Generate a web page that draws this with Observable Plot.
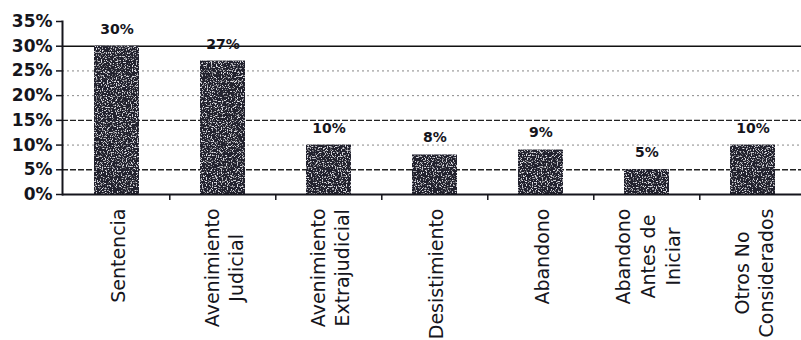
<!DOCTYPE html>
<html>
<head>
<meta charset="utf-8">
<script src="https://cdn.jsdelivr.net/npm/d3@7"></script>
<script src="https://cdn.jsdelivr.net/npm/@observablehq/plot@0.6"></script>
<style>
  html, body { margin: 0; padding: 0; background: #fff; }
  #chart svg { display: block; }
</style>
</head>
<body>
<div id="chart"></div>
<script>
// Outcome categories (multi-line labels use "\n")
const categories = [
  "Sentencia",
  "Avenimiento\nJudicial",
  "Avenimiento\nExtrajudicial",
  "Desistimiento",
  "Abandono",
  "Abandono\nAntes de\nIniciar",
  "Otros No\nConsiderados"
];
// Share of cases per outcome, in percent
const values = [30, 27, 10, 8, 9, 5, 10];
// Y axis ticks
const yTicks = [0, 5, 10, 15, 20, 25, 30, 35];
// Gridlines: heavier and lighter ones
const majorGrid = [30, 15, 5];
const minorGrid = [25, 20, 10];

const data = categories.map((c, i) => ({category: c, value: values[i]}));

const W = 801, H = 340;
const mLeft = 62, mTop = 21, mBottom = 146;
const xRange = [mLeft, 807];
const halfStep = (xRange[1] - xRange[0]) / categories.length / 2;
const ink = "#15151c";
const font = "DejaVu Sans, Verdana, sans-serif";

const chart = Plot.plot({
  width: W,
  height: H,
  marginLeft: mLeft,
  marginRight: 0,
  marginTop: mTop,
  marginBottom: mBottom,
  style: {fontFamily: font, color: ink, background: "#fff"},
  x: {type: "band", domain: categories, range: xRange, paddingInner: 0.58, paddingOuter: 0.29, axis: null},
  y: {domain: [0, 35], axis: null},
  marks: [
    Plot.ruleY(minorGrid, {stroke: "#555", strokeWidth: 1, strokeDasharray: "2,3", strokeOpacity: 0.7}),
    Plot.ruleY(majorGrid.filter(d => d !== 30), {stroke: "#222", strokeWidth: 1.4, strokeDasharray: "6,2"}),
    Plot.ruleY([30], {stroke: "#111", strokeWidth: 1.6}),
    Plot.barY(data, {x: "category", y: "value", fill: "#24232f", className: "bars"}),
    Plot.ruleY([0], {stroke: ink, strokeWidth: 2}),
    Plot.frame({anchor: "left", stroke: ink, strokeWidth: 2}),
    Plot.axisY({
      ticks: yTicks,
      tickFormat: d => d + "%",
      label: null,
      tickSize: 6,
      tickPadding: 4,
      stroke: ink,
      strokeWidth: 1.5,
      fontSize: 17,
      fontWeight: "bold",
      fill: ink
    }),
    // tick marks between categories on the baseline
    Plot.ruleX(categories.slice(1), {x: d => d, y1: 0, y2: 0, dx: -halfStep, insetBottom: -6, stroke: ink, strokeWidth: 1.5}),
    // value labels above each bar
    Plot.text(data, {
      x: "category",
      y: "value",
      text: d => d.value + "%",
      dy: -17,
      fontSize: 14,
      fontWeight: "bold",
      fill: ink
    }),
    // rotated category labels
    Plot.text(categories, {
      x: d => d,
      y: 0,
      text: d => d,
      rotate: -90,
      textAnchor: "middle",
      lineHeight: 1.3,
      fontSize: 19,
      fill: ink,
      dy: 14,
      className: "cat-labels"
    })
  ]
});

document.getElementById("chart").append(chart);

// Grainy print texture on the bars: light specks over the dark fill
const defs = d3.select(chart).insert("defs", ":first-child");
const grain = defs.append("filter").attr("id", "grain").attr("x", 0).attr("y", 0).attr("width", 1).attr("height", 1);
grain.append("feTurbulence").attr("type", "fractalNoise").attr("baseFrequency", 0.8).attr("numOctaves", 2).attr("seed", 7).attr("result", "noise");
grain.append("feColorMatrix").attr("in", "noise").attr("type", "matrix")
  .attr("values", "0 0 0 0 0.75  0 0 0 0 0.75  0 0 0 0 0.8  0 0 0 6 -3.3").attr("result", "specks");
grain.append("feComposite").attr("in", "specks").attr("in2", "SourceGraphic").attr("operator", "in").attr("result", "clipped");
const merge = grain.append("feMerge");
merge.append("feMergeNode").attr("in", "SourceGraphic");
merge.append("feMergeNode").attr("in", "clipped");
d3.select(chart).selectAll(".bars rect").attr("filter", "url(#grain)");

// Hang each rotated label block from the baseline: shift it down by half its longest line
d3.select(chart).selectAll(".cat-labels text").each(function() {
  const w = this.getBBox().width;
  const t = this.getAttribute("transform") || "";
  this.setAttribute("transform", `translate(0,${w / 2}) ` + t);
});
</script>
</body>
</html>
